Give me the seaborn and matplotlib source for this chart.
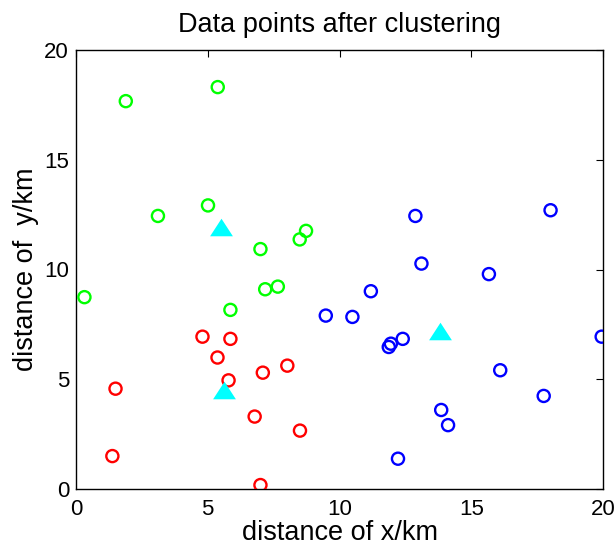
import matplotlib
matplotlib.use("Agg")
import matplotlib.pyplot as plt
import seaborn as sns
import pandas as pd
import numpy as np

# Cluster 1 (red)
red_x = [4.80, 5.86, 5.37, 5.79, 7.09, 8.02, 1.50, 6.78, 8.50, 1.38, 7.00]
red_y = [6.94, 6.84, 5.99, 4.95, 5.30, 5.62, 4.57, 3.30, 2.66, 1.50, 0.18]
# Cluster 2 (green)
green_x = [1.89, 5.38, 3.11, 5.01, 7.00, 8.49, 8.73, 0.32, 7.18, 7.66, 5.86]
green_y = [17.67, 18.31, 12.44, 12.92, 10.93, 11.37, 11.76, 8.74, 9.10, 9.22, 8.16]
# Cluster 3 (blue)
blue_x = [9.48, 10.49, 12.88, 18.01, 13.11, 15.67, 11.19, 12.40, 11.95, 11.87,
          19.95, 16.10, 17.75, 13.86, 14.12, 12.22]
blue_y = [7.90, 7.84, 12.44, 12.70, 10.27, 9.79, 9.01, 6.84, 6.62, 6.47,
          6.94, 5.41, 4.24, 3.60, 2.91, 1.38]
# Cluster centres
center_x = [5.63, 5.51, 13.82]
center_y = [4.50, 11.94, 7.20]

ticks = [0, 5, 10, 15, 20]

df = pd.DataFrame({
    "x": red_x + green_x + blue_x,
    "y": red_y + green_y + blue_y,
    "cluster": ["red"] * len(red_x) + ["green"] * len(green_x) + ["blue"] * len(blue_x),
})
centers = pd.DataFrame({"x": center_x, "y": center_y})

sns.set_style("white")
plt.rcParams["font.family"] = ["Liberation Sans", "DejaVu Sans"]
plt.rcParams["text.color"] = "black"
plt.rcParams["axes.labelcolor"] = "black"
plt.rcParams["xtick.color"] = "black"
plt.rcParams["ytick.color"] = "black"

fig = plt.figure(figsize=(6.14, 5.48), dpi=100)
ax = fig.add_axes([76 / 614, 1 - 489 / 548, (603 - 76) / 614, (489 - 50) / 548])

palette = {"red": (1, 0, 0), "green": (0, 1, 0), "blue": (0, 0, 1)}
sns.scatterplot(data=df, x="x", y="y", hue="cluster", palette=palette,
                marker="o", s=76, linewidth=1.7, legend=False, ax=ax, zorder=3)
for coll in ax.collections:
    fc = coll.get_facecolors()
    coll.set_edgecolors(fc)
    coll.set_facecolors("none")

tri = [(-1, -0.77), (1, -0.77), (0, 0.77), (-1, -0.77)]
sns.scatterplot(data=centers, x="x", y="y", color=(0, 1, 1), marker=tri,
                s=270, linewidth=0, legend=False, ax=ax, zorder=4)

ax.set_xlim(0, 20)
ax.set_ylim(0, 20)
ax.set_xticks(ticks)
ax.set_yticks(ticks)
ax.set_xticklabels([str(t) for t in ticks])
ax.set_yticklabels([str(t) for t in ticks])
ax.tick_params(direction="in", length=5, width=0.8, top=True, right=True,
               labelsize=16, colors="black", pad=5)
ax.tick_params(axis="x", pad=7)
for sp in ax.spines.values():
    sp.set_visible(True)
    sp.set_color("black")
    sp.set_linewidth(1.0)

ax.set_title("Data points after clustering", fontsize=19.5, pad=13, color="black")
ax.set_xlabel("distance of x/km", fontsize=19.5, labelpad=0, color="black")
ax.set_ylabel("distance of  y/km", fontsize=19.5, labelpad=4, color="black")

fig.savefig("out.png", dpi=100)
